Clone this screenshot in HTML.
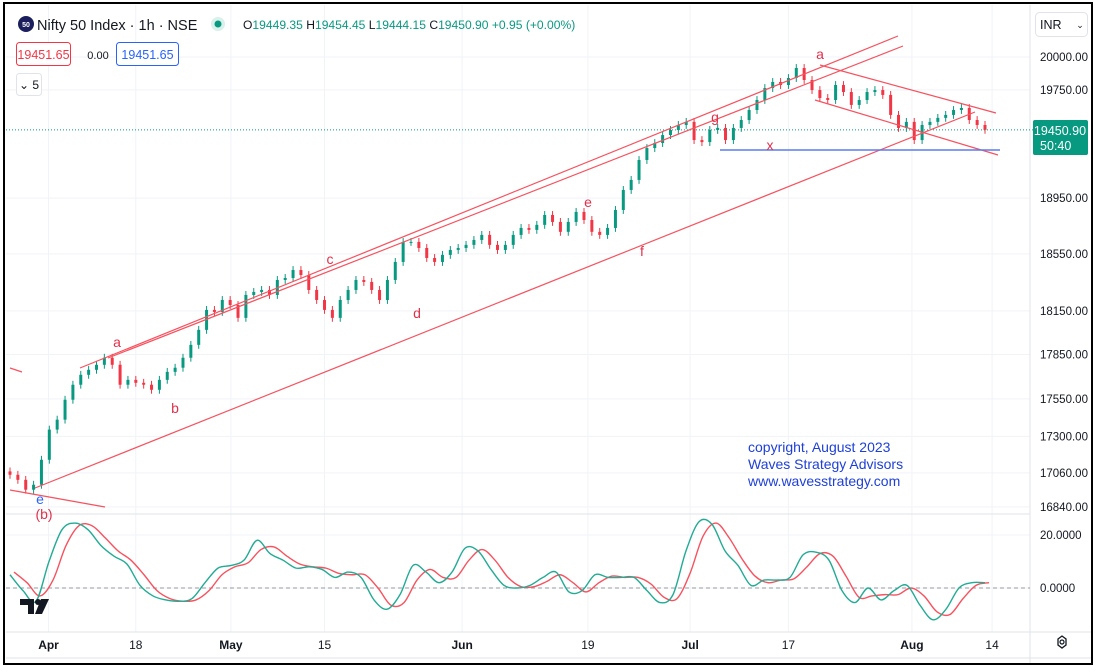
<!DOCTYPE html>
<html><head><meta charset="utf-8">
<style>
html,body{margin:0;padding:0;background:#fff;}
svg{display:block;font-family:"Liberation Sans",sans-serif;}
</style></head>
<body>
<svg id="chart" width="1096" height="672" viewBox="0 0 1096 672">
<rect x="0" y="0" width="1096" height="672" fill="#fff"/>
<g id="grid"></g>
<g id="candles"></g>
<g id="osc"></g>
<g id="overlay"></g>
<g id="axes"></g>
<g>
  <circle cx="26" cy="24" r="8" fill="#1c1f5e"/>
  <text x="26" y="27" font-size="7" fill="#fff" text-anchor="middle" font-weight="bold">50</text>
  <text x="37" y="30" font-size="14.5" fill="#131722">Nifty 50 Index · 1h · NSE</text>
  <circle cx="218" cy="24" r="7" fill="#d9f0eb"/>
  <circle cx="218" cy="24" r="3.5" fill="#089981"/>
  <text x="243" y="29" font-size="12.1" fill="#089981"><tspan fill="#131722">O</tspan>19449.35 <tspan fill="#131722">H</tspan>19454.45 <tspan fill="#131722">L</tspan>19444.15 <tspan fill="#131722">C</tspan>19450.90 +0.95 (+0.00%)</text>
  <rect x="16.5" y="42.5" width="54" height="23" rx="3" fill="#fff" stroke="#f23645"/>
  <text x="43.5" y="59" font-size="12.5" fill="#f23645" text-anchor="middle">19451.65</text>
  <text x="98" y="59" font-size="11" fill="#131722" text-anchor="middle">0.00</text>
  <rect x="116.5" y="42.5" width="62" height="23" rx="3" fill="#fff" stroke="#2962ff"/>
  <text x="147.5" y="59" font-size="12.5" fill="#2962ff" text-anchor="middle">19451.65</text>
  <rect x="16.5" y="73.5" width="25" height="22" rx="3" fill="#fff" stroke="#e0e3eb"/>
  <text x="29" y="89" font-size="12" fill="#131722" text-anchor="middle">⌄ 5</text>
</g>
<rect x="1035.5" y="12.5" width="52" height="24" rx="4" fill="#fff" stroke="#e0e3eb"/>
<text x="1040" y="29" font-size="12.5" fill="#131722">INR</text>
<text x="1080" y="28" font-size="9" fill="#131722" text-anchor="middle">⌄</text>
<rect x="1033" y="120" width="55" height="35" rx="2" fill="#089981"/>
<text x="1060" y="135" font-size="12.5" fill="#fff" text-anchor="middle">19450.90</text>
<text x="1040" y="150" font-size="12.5" fill="#fff">50:40</text>
<g>
  <polygon points="1058,639 1062,636 1066,639 1066,645 1062,648 1058,645" fill="none" stroke="#131722" stroke-width="1.3"/>
  <circle cx="1062" cy="642" r="2" fill="none" stroke="#131722" stroke-width="1.2"/>
</g>
<g>
  <path d="M20,599 h14 v15 h-6 v-9 h-8 z" fill="#131722"/>
  <circle cx="38" cy="602" r="3" fill="#131722"/>
  <path d="M41,599 h8 l-7,15 h-7 z" fill="#131722"/>
</g>
<text x="748" y="452" font-size="14" fill="#1f40d8">copyright, August 2023</text>
<text x="748" y="469" font-size="14" fill="#1f40d8">Waves Strategy Advisors</text>
<text x="748" y="486" font-size="14" fill="#1f40d8">www.wavesstrategy.com</text>
<rect x="4" y="3" width="1088" height="661" fill="none" stroke="#000" stroke-width="2"/>
</svg>
<script>
const closes=[17048,17015,16951,16983,17146,17345,17411,17544,17645,17712,17746,17780,17828,17780,17645,17678,17658,17645,17611,17678,17732,17760,17828,17916,18019,18157,18143,18226,18191,18102,18261,18282,18296,18261,18366,18380,18436,18401,18296,18226,18157,18102,18226,18296,18366,18352,18296,18226,18366,18493,18635,18635,18592,18521,18493,18543,18578,18592,18614,18649,18685,18614,18578,18614,18685,18735,18721,18757,18828,18778,18707,18778,18850,18792,18707,18685,18735,18864,19009,19082,19228,19316,19353,19412,19450,19487,19510,19375,19360,19450,19465,19375,19465,19524,19599,19674,19764,19810,19787,19840,19916,19825,19749,19689,19674,19787,19734,19637,19674,19734,19749,19712,19562,19465,19510,19375,19487,19510,19540,19562,19599,19614,19524,19487,19450.9];
const firstOpen=17070;
const priceTicks=[20000,19750,18950,18550,18150,17850,17550,17300,17060,16840];
const oscMain=[5,-1,-5,10,22,24.5,22,16,12,9,1,-3,-4.5,-5,-4,2,7.5,8.5,10.5,18,13,10.5,7.5,8,7,4,6,4,-4.5,-8,-2.5,8.5,6,2,6,15,14,7,1,0,1,4,6,-1.5,-1,5,4,4,4,-1,-5.5,-2.5,14,25,24,14,8.5,1,3,3,4,12.5,13.5,10.5,-1,-5.5,0,-4.5,-1,1,-6.5,-12,-8,0,2,2];
const oscSignal=[6,2,-3,3,16,23.5,23.5,19,14,10.5,5,-1,-4,-5,-4.5,-1,5,8,9.5,14.5,15.5,12,9,8,7.5,5.5,5,5,0,-6.5,-5.5,3,7,4,4,10.5,14.5,10.5,4,0.5,0.5,2.5,5,2,-1.5,2,4.5,4,4,1.5,-3.5,-4,5.5,19.5,24.5,19,11,4.5,2,3,3.5,8,13,12,4.5,-3.5,-3,-2.5,-2.5,0,-3,-9,-10,-4,1,2];
const oscTicks=[20,0];
const timeLabels=["Apr","18","May","15","Jun","19","Jul","17","Aug","14"];
const timeBold=[true,false,true,false,true,false,true,false,true,false];
const timeIdx=[4.9,16.0,28.1,40.0,57.5,73.5,86.5,99.0,114.7,124.9];

const NS="http://www.w3.org/2000/svg";
function mk(tag,attrs,parent){const e=document.createElementNS(NS,tag);for(const k in attrs)e.setAttribute(k,attrs[k]);parent.appendChild(e);return e;}
const X0=10,X1=985;
function xC(i){return X0+i*(X1-X0)/(closes.length-1);}
function yP(p){return 57+Math.log(20000/p)*2616;}
function xO(i){return X0+i*(X1-X0)/(oscMain.length-1);}
function yO(v){return 588-v*2.65;}

const grid=document.getElementById('grid');
const axes=document.getElementById('axes');
priceTicks.forEach(p=>{
  const y=yP(p);
  const l=mk('line',{x1:6,x2:1030,y1:y,y2:y,stroke:'#f0f3fa'},grid);
  
  
  const t=mk('text',{x:1040,y:y+4,'font-size':11.5,fill:'#131722'},axes);
  t.textContent=p.toFixed(2);
  
  
});
oscTicks.forEach(v=>{
  const y=yO(v);
  const l=mk('line',{x1:6,x2:1030,y1:y,y2:y,stroke:'#f0f3fa'},grid);
  
  
  const t=mk('text',{x:1040,y:y+4,'font-size':11.5,fill:'#131722'},axes);
  t.textContent=v.toFixed(4);
  
  
});
timeLabels.forEach((s,k)=>{
  const x=xC(timeIdx[k]);
  const l=mk('line',{x1:x,x2:x,y1:5,y2:632,stroke:'#f0f3fa'},grid);
  
  
  const t=mk('text',{x:x,y:649,'font-size':12,fill:'#131722','text-anchor':'middle','font-weight':timeBold[k]?'bold':'normal'},axes);
  t.textContent=s;
  
  
});
[[6,514,1030,514],[6,632,1092,632],[1030,5,1030,663],[6,658,1092,658]].forEach(a=>{
  const l=mk('line',{x1:a[0],y1:a[1],x2:a[2],y2:a[3],stroke:'#e0e3eb'},grid);
  
  
});

const cg=document.getElementById('candles');
for(let i=0;i<closes.length;i++){
  const o=i===0?firstOpen:closes[i-1], c=closes[i];
  const up=c>=o, col=up?'#089981':'#f23645';
  const x=xC(i);
  const hi=Math.max(o,c)*1.0015, lo=Math.min(o,c)*0.9985;
  const w=mk('line',{x1:x,x2:x,y1:yP(hi),y2:yP(lo),stroke:col,'stroke-width':1},cg);
  
  
  const yt=yP(Math.max(o,c)), yb=yP(Math.min(o,c));
  const r=mk('rect',{x:x-1.5,y:yt,width:3,height:Math.max(1,yb-yt),fill:col},cg);
  
  
}
const lp=mk('line',{x1:6,x2:1033,y1:yP(closes[closes.length-1]),y2:yP(closes[closes.length-1]),stroke:'#089981','stroke-dasharray':'1 2'},cg);



const og=document.getElementById('osc');
function smooth(vals,xf){
  let pts=vals.map((v,i)=>[xf(i),yO(v)]);
  let d='M'+pts[0][0]+','+pts[0][1];
  for(let i=0;i<pts.length-1;i++){
    const p0=pts[Math.max(0,i-1)],p1=pts[i],p2=pts[i+1],p3=pts[Math.min(pts.length-1,i+2)];
    const c1=[p1[0]+(p2[0]-p0[0])/6,p1[1]+(p2[1]-p0[1])/6];
    const c2=[p2[0]-(p3[0]-p1[0])/6,p2[1]-(p3[1]-p1[1])/6];
    d+=' C'+c1+' '+c2+' '+p2;
  }
  return d;
}
const zl=mk('line',{x1:6,x2:1030,y1:yO(0),y2:yO(0),stroke:'#9598a1','stroke-dasharray':'4 3'},og);


const sx=i=>X0+i*(X1-X0)/(oscSignal.length-1)+4;
const sig=mk('path',{d:smooth(oscSignal,sx),fill:'none',stroke:'#f7525f','stroke-width':1.4},og);


const mn=mk('path',{d:smooth(oscMain,xO),fill:'none',stroke:'#22ab94','stroke-width':1.4},og);



const ov=document.getElementById('overlay');
const red='#f7525f';
[[80,368,898,36,'upper-channel-line-1'],[108,358,903,46,'upper-channel-line-2'],[35,488,975,112,'lower-channel-line'],[10,368,22,372,'left-trend-stub'],[10,490,105,507,'lower-left-line'],[820,65,996,113,'descending-channel-upper'],[815,100,998,155,'descending-channel-lower']].forEach(a=>{
  const l=mk('line',{x1:a[0],y1:a[1],x2:a[2],y2:a[3],stroke:red,'stroke-width':1.2},ov);
  
  
});
const bl=mk('line',{x1:720,y1:150,x2:1000,y2:150,stroke:'#5b7cf0','stroke-width':1.5},ov);


[['a',117,347],['b',175,413],['c',330,264],['d',417,318],['e',588,207],['f',642,256],['g',715,122],['x',770,150],['a',820,59],['(b)',44,519]].forEach(a=>{
  const t=mk('text',{x:a[1],y:a[2],'font-size':14,fill:'#e0314b','text-anchor':'middle'},ov);
  t.textContent=a[0];
  
  
});
const e=mk('text',{x:40,y:504,'font-size':14,fill:'#2962ff','text-anchor':'middle'},ov);
e.textContent='e';


</script>
</body></html>
